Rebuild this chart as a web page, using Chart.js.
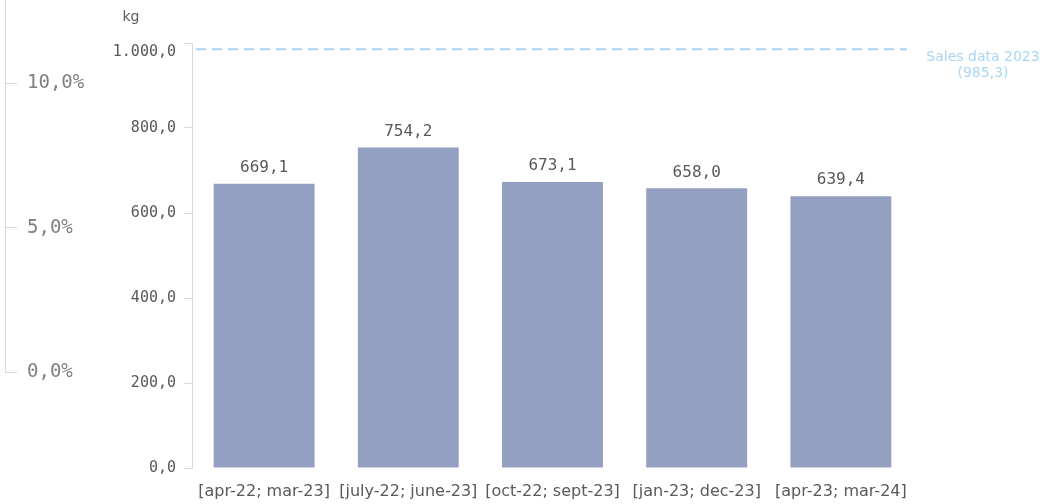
<!DOCTYPE html>
<html>
<head>
<meta charset="utf-8">
<script src="https://cdn.jsdelivr.net/npm/chart.js@4"></script>
<style>
  html, body { margin: 0; padding: 0; background: #ffffff; overflow: hidden; }
  #wrap { position: relative; width: 1047px; height: 504px; }
  #main { position: absolute; left: 0; top: 0; }
  #pct { position: absolute; left: 0; top: 0; }
</style>
</head>
<body>
<div id="wrap">
  <canvas id="main" width="1047" height="504"></canvas>
  <canvas id="pct" width="120" height="410"></canvas>
</div>
<script>
// ---- data ----
const categories = ['[apr-22; mar-23]', '[july-22; june-23]', '[oct-22; sept-23]', '[jan-23; dec-23]', '[apr-23; mar-24]'];
const salesKg = [669.1, 754.2, 673.1, 658.0, 639.4];
const kgTicks = [0, 200, 400, 600, 800, 1000];
const pctTicks = [0, 5, 10];
const refLineValue = 985.3;
const refLineLabel = 'Sales data 2023';
const unitLabel = 'kg';

// ---- helpers ----
function fmt(v) {
  const parts = v.toFixed(1).split('.');
  parts[0] = parts[0].replace(/\B(?=(\d{3})+(?!\d))/g, '.');
  return parts[0] + ',' + parts[1];
}
const NUM_FONT = 'DejaVu Sans Mono';
const TXT_FONT = 'DejaVu Sans';
const GREY = '#595959';
const AXIS = '#d9d9d9';
const BAR = '#93a0c2';
const REF = '#a8d5f3';

const overlayPlugin = {
  id: 'overlay',
  afterDatasetsDraw(chart) {
    const ctx = chart.ctx;
    const ys = chart.scales.y;
    const area = chart.chartArea;
    // value labels
    const meta = chart.getDatasetMeta(0);
    ctx.save();
    ctx.font = '16px "' + NUM_FONT + '"';
    ctx.fillStyle = GREY;
    ctx.textAlign = 'center';
    ctx.textBaseline = 'middle';
    meta.data.forEach((bar, i) => {
      ctx.fillText(fmt(salesKg[i]), bar.x, bar.y - 16);
    });
    // reference line
    const ry = ys.getPixelForValue(refLineValue);
    ctx.strokeStyle = REF;
    ctx.lineWidth = 2;
    ctx.setLineDash([10, 6]);
    ctx.beginPath();
    ctx.moveTo(area.left + 4, ry);
    ctx.lineTo(area.right - 6, ry);
    ctx.stroke();
    ctx.setLineDash([]);
    ctx.fillStyle = REF;
    ctx.font = '14px "' + TXT_FONT + '"';
    ctx.fillText(refLineLabel, 983, 57);
    ctx.fillText('(' + fmt(refLineValue) + ')', 983, 73);
    // unit label
    ctx.fillStyle = GREY;
    ctx.font = '14px "' + TXT_FONT + '"';
    ctx.fillText(unitLabel, 131, 17);
    ctx.restore();
  }
};

new Chart(document.getElementById('main'), {
  type: 'bar',
  data: {
    labels: categories,
    datasets: [{
      data: salesKg,
      backgroundColor: BAR,
      borderWidth: 0,
      categoryPercentage: 1.0,
      barPercentage: 0.70
    }]
  },
  options: {
    responsive: false,
    devicePixelRatio: 1,
    animation: false,
    layout: { padding: { top: 43, right: 134, left: 0, bottom: 0 } },
    plugins: { legend: { display: false }, tooltip: { enabled: false }, title: { display: false } },
    scales: {
      x: {
        grid: { display: false },
        border: { display: false },
        ticks: {
          color: GREY,
          font: { family: TXT_FONT, size: 16 },
          padding: 6,
          maxRotation: 0,
          autoSkip: false
        },
        afterFit(s) { s.height = 36; s.paddingLeft = 0; s.paddingRight = 0; }
      },
      y: {
        min: 0,
        max: 1000,
        afterBuildTicks(s) { s.ticks = kgTicks.map(v => ({ value: v })); },
        grid: { drawOnChartArea: false, drawTicks: true, tickLength: 8, color: AXIS, lineWidth: 1 },
        border: { display: true, color: AXIS, width: 1 },
        ticks: {
          color: GREY,
          font: { family: NUM_FONT, size: 15 },
          padding: 8,
          callback(v) { return v === 1000 ? ['', fmt(v)] : fmt(v); }
        },
        afterFit(s) { s.width = 192; s.paddingTop = 0; s.paddingBottom = 0; }
      }
    }
  },
  plugins: [overlayPlugin]
});

new Chart(document.getElementById('pct'), {
  type: 'bar',
  data: { labels: [''], datasets: [{ data: [] }] },
  options: {
    responsive: false,
    devicePixelRatio: 1,
    animation: false,
    layout: { padding: { top: 0, right: 0, left: 0, bottom: 38 } },
    plugins: { legend: { display: false }, tooltip: { enabled: false } },
    scales: {
      x: { display: false },
      y: {
        position: 'right',
        min: 0,
        max: 12.88,
        afterBuildTicks(s) { s.ticks = pctTicks.map(v => ({ value: v })); },
        grid: { drawOnChartArea: false, drawTicks: true, tickLength: 12, color: AXIS, lineWidth: 1 },
        border: { display: true, color: AXIS, width: 1 },
        ticks: {
          color: '#7f7f7f',
          font: { family: NUM_FONT, size: 19 },
          padding: 10,
          callback(v) { return fmt(v) + '%'; }
        },
        afterFit(s) { s.width = 115; s.paddingTop = 0; s.paddingBottom = 0; }
      }
    }
  }
});
</script>
</body>
</html>
